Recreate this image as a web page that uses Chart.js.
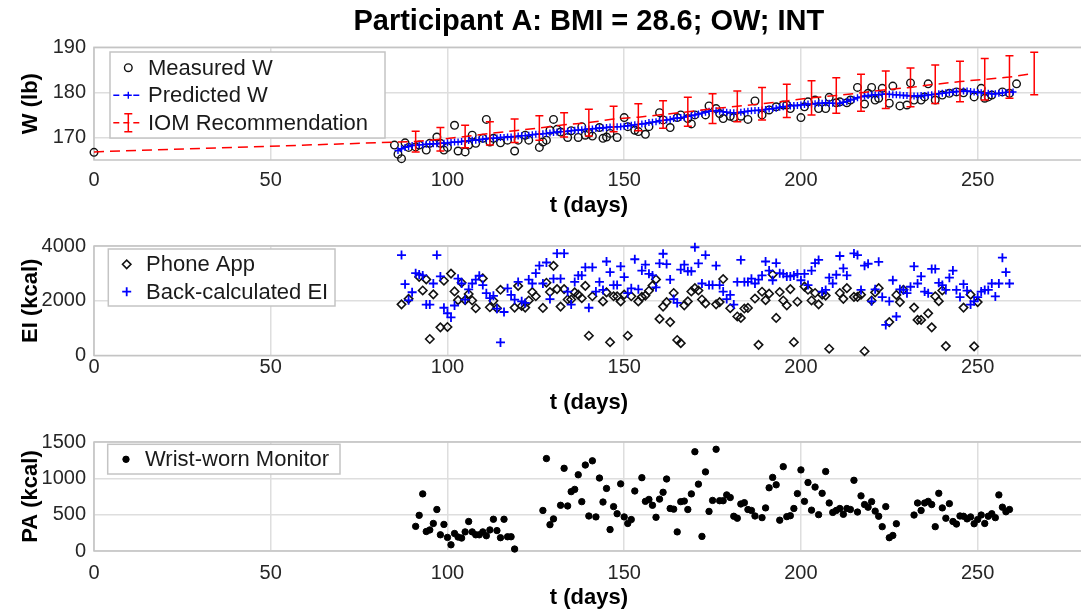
<!DOCTYPE html>
<html lang="en">
<head>
<meta charset="UTF-8">
<title>Participant A</title>
<style>
  html, body { margin: 0; padding: 0; background: #fff; overflow: hidden; }
  #wrap { position: relative; width: 1081px; height: 612px; overflow: hidden; background: #fff; }
  #wrap canvas { position: absolute; left: 0; }
</style>
</head>
<body>
<div id="wrap">
  <canvas id="chartW" width="1090" height="226" style="top:0px"></canvas>
  <canvas id="chartEI" width="1090" height="196" style="top:226px"></canvas>
  <canvas id="chartPA" width="1090" height="200" style="top:422px"></canvas>
</div>

<script src="https://cdn.jsdelivr.net/npm/chart.js"></script>
<script>
// ---- data ----
const xTicks = [0, 50, 100, 150, 200, 250];
const wTicks = [170, 180, 190];
const eiTicks = [0, 2000, 4000];
const paTicks = [0, 500, 1000, 1500];

// measured weight (lb)
const measDays = [0, 85, 86, 87, 88, 89, 91, 92, 94, 95, 97, 98, 99, 100, 102, 103, 105, 106, 107, 108,
  110, 111, 112, 113, 115, 117, 119, 120, 122, 123, 126, 127, 128, 129, 130, 131, 132, 134, 135, 137,
  138, 139, 140, 141, 143, 144, 145, 146, 148, 150, 151, 153, 154, 156, 157, 160, 161, 163, 165, 166,
  168, 169, 170, 173, 174, 176, 177, 178, 180, 181, 183, 185, 187, 189, 191, 193, 195, 196, 197, 200,
  201, 202, 204, 205, 207, 208, 210, 211, 213, 214, 216, 218, 219, 220, 221, 222, 223, 225, 226, 228,
  230, 231, 232, 234, 235, 236, 238, 240, 242, 244, 246, 249, 251, 252, 253, 254, 257, 259, 261];
const measW = [166.7, 168.3, 166.3, 165.3, 168.8, 167.8, 167.9, 168.3, 167.2, 168.7, 170.1, 168.7, 167.2, 167.8, 172.7, 167.0, 166.8, 168.3, 170.5, 168.7,
  169.8, 174.0, 169.0, 169.8, 168.8, 169.4, 167.0, 169.4, 170.5, 169.4, 167.8, 169.0, 169.4, 171.6, 174.0, 171.8, 171.2, 170.0, 171.5, 170.0,
  172.4, 170.5, 170.9, 170.3, 172.2, 169.8, 170.1, 170.9, 170.0, 174.4, 172.4, 171.6, 171.3, 170.7, 172.4, 175.5, 173.9, 172.2, 174.4, 175.0,
  174.2, 173.0, 175.0, 175.0, 177.0, 176.4, 175.3, 174.2, 174.7, 174.4, 174.7, 174.0, 178.1, 175.0, 176.1, 176.8, 177.2, 177.2, 176.4, 174.4,
  176.8, 177.9, 178.3, 176.4, 176.4, 178.9, 177.7, 177.9, 177.7, 178.3, 181.1, 177.4, 179.8, 181.1, 178.3, 178.7, 180.9, 177.6, 181.4, 177.0,
  177.2, 182.1, 178.3, 178.3, 179.0, 181.9, 178.3, 179.4, 179.8, 180.1, 179.9, 179.0, 180.9, 178.7, 179.0, 179.4, 180.1, 179.8, 181.9];

// predicted weight, one value per day from day 86
const predFirstDay = 86;
const predW = [
  167.1, 167.5, 167.8, 168.0, 168.2, 168.3, 168.4, 168.4, 168.5, 168.5,
  168.6, 168.6, 168.7, 168.7, 168.8, 168.9, 169.0, 169.0, 169.1, 169.2,
  169.3, 169.4, 169.4, 169.5, 169.6, 169.7, 169.8, 169.8, 169.9, 170.0,
  170.0, 170.1, 170.1, 170.2, 170.3, 170.4, 170.4, 170.5, 170.6, 170.7,
  170.7, 170.8, 170.9, 171.0, 171.1, 171.2, 171.3, 171.3, 171.4, 171.5,
  171.6, 171.6, 171.7, 171.8, 171.9, 171.9, 172.0, 172.1, 172.1, 172.2,
  172.3, 172.3, 172.4, 172.4, 172.5, 172.6, 172.7, 172.8, 172.9, 173.0,
  173.1, 173.3, 173.4, 173.5, 173.7, 173.8, 173.9, 174.0, 174.2, 174.3,
  174.4, 174.5, 174.7, 174.8, 175.0, 175.2, 175.4, 175.6, 175.8, 175.9,
  175.9, 175.8, 175.7, 175.6, 175.5, 175.5, 175.5, 175.6, 175.7, 175.8,
  175.9, 176.0, 176.0, 176.1, 176.2, 176.3, 176.4, 176.5, 176.7, 176.8,
  176.9, 177.0, 177.1, 177.1, 177.2, 177.3, 177.4, 177.4, 177.5, 177.6,
  177.6, 177.7, 177.6, 177.6, 177.5, 177.6, 177.8, 178.0, 178.3, 178.5,
  178.8, 179.0, 179.2, 179.3, 179.4, 179.5, 179.5, 179.6, 179.6, 179.6,
  179.5, 179.5, 179.4, 179.3, 179.3, 179.2, 179.2, 179.2, 179.3, 179.3,
  179.4, 179.5, 179.6, 179.7, 179.8, 179.9, 180.0, 180.1, 180.2, 180.2,
  180.3, 180.3, 180.2, 180.1, 180.0, 179.9, 179.8, 179.8, 179.7, 179.7,
  179.8, 179.9, 180.0, 180.1, 180.1];

// IOM recommendation and its +/- range
const iomDays = [0, 91, 98, 105, 112, 119, 126, 133, 140, 147, 154, 161, 168, 175, 182, 189, 196, 203, 210, 217, 224, 231, 238, 245, 252, 259, 266];
const iomW = [166.8, 169.1, 169.6, 170.2, 170.9, 171.5, 172.1, 172.8, 173.3, 174.1, 174.5, 175.1, 175.7, 176.4, 176.9, 177.5, 178.1, 178.8, 179.3, 179.9, 180.6, 181.1, 181.8, 182.4, 182.9, 183.4, 184.2];
const iomErr = [0, 2.3, 2.6, 2.5, 2.6, 2.6, 2.7, 2.7, 2.95, 2.85, 3.0, 3.05, 3.2, 3.3, 3.4, 3.6, 3.7, 3.8, 3.95, 4.1, 4.15, 4.3, 4.25, 4.5, 4.6, 4.7, 4.7];

// energy intake, phone app (kcal)
const appDays = [87, 89, 92, 93, 94, 95, 96, 98, 99, 100, 101, 102, 103, 104, 105, 106, 107, 108, 110, 112,
  113, 114, 115, 119, 120, 121, 122, 123, 124, 125, 127, 128, 129, 130, 131, 132, 133, 134, 135, 136,
  137, 138, 139, 140, 141, 144, 145, 146, 147, 148, 149, 150, 151, 152, 154, 155, 156, 157, 158, 159,
  160, 161, 162, 163, 164, 165, 166, 167, 168, 169, 170, 171, 172, 173, 176, 177, 178, 180, 182, 183,
  184, 185, 187, 188, 189, 190, 191, 192, 193, 194, 195, 196, 197, 198, 199, 201, 202, 203, 204, 205,
  206, 207, 208, 211, 212, 213, 215, 216, 217, 218, 220, 221, 222, 225, 227, 228, 229, 232, 233, 234,
  236, 237, 238, 239, 240, 241, 246, 248, 249, 250];
const appEI = [1869, 2070, 2872, 2376, 2780, 603, 2234, 1028, 2731, 1042, 2993, 2340, 2021, 2659, 2021, 2248, 2010, 1727, 2815, 1762,
  2000, 1727, 2401, 1751, 2542, 1808, 1751, 2010, 2319, 2163, 1737, 2659, 2319, 3276, 2425, 1787, 2425, 2046, 2046, 2305,
  2223, 2092, 2542, 723, 2163, 1975, 2305, 486, 2163, 2163, 1975, 2223, 723, 2163, 1975, 2141, 2188, 2365, 2553, 2780,
  1337, 1787, 1950, 1220, 2283, 567, 450, 1833, 1975, 2340, 2461, 2376, 2046, 1904, 1869, 1950, 2794, 1727, 1425, 1372,
  1716, 1737, 2081, 390, 2330, 2021, 2259, 2957, 1372, 2319, 2010, 1833, 2425, 486, 1964, 2518, 2401, 2010, 2283, 1869,
  2223, 2188, 248, 2283, 2070, 2461, 2141, 2141, 2223, 156, 2010, 2305, 2461, 1220, 2212, 1950, 2401, 1751, 1301, 1301,
  1539, 1028, 2163, 1986, 2376, 344, 1751, 2223, 333, 1950];

// back-calculated energy intake, one value per day from day 87 (null = no point)
const backFirstDay = 87;
const backEI = [
  3670, 2606, 2015, 2311, 3006, 2961, 2925, 1862, 1862, 2630,
  3670, 2890, 1744, 1543, 1390, 1826, 2807, 2630, 2039, 2418,
  2630, 2772, 2914, 2571, 2275, 2098, 2181, 1709, 479, 1589,
  2453, 2216, 2039, 2689, 1980, 1921, 2772, 2630, 3006, 3280,
  2630, 3398, 2063, 2807, 3730, 2807, 3730, 2334, 1862, 2689,
  2925, 2925, 3220, 1744, 3220, 2334, 2689, 2394, 3433, 3043,
  2571, 2571, 3255, 2865, 2275, 2453, 3516, 2418, 3103, 3316,
  2985, 2925, 2489, 3362, 3716, 3339, 2772, 2063, 1921, 3138,
  3316, 3078, 3078, 3954, 3362, 2630, 3670, 2571, 2571, 3280,
  2571, 2334, 2063, 2216, 1862, 2689, 3493, 2689, 2689, 2807,
  2630, 2772, 2925, 3433, 3103, 2748, 3375, 3006, 2985, 2890,
  2890, 2925, 2985, 2748, 2985, 2571, 3103, 3375, 3493, 2334,
  2394, 2844, 2630, 2950, 3635, 3185, 2925, null, 3730, 3670,
  2394, 3280, 3351, 1980, 2418, 3422, 2134, 1117, 1980, 2748,
  1425, 2418, 2394, 2275, 2512, 3255, 2630, 2890, 2334, 2275,
  3162, 3162, 2654, 2571, 2394, 2844, 3103, 2394, 2134, 2606,
  2370, 1862, 1980, 2134, 2334, 2394, 2394, 2630, 2157, 2630,
  3575, 3043, 2630];

// physical activity, wrist-worn monitor (kcal)
const paDays = [91, 92, 93, 94, 95, 96, 97, 98, 99, 100, 101, 102, 103, 104, 105, 106, 107, 108, 109, 110,
  111, 112, 113, 114, 115, 116, 117, 118, 119, 127, 128, 129, 130, 132, 133, 134, 135, 136, 137, 138,
  139, 140, 141, 142, 143, 144, 145, 146, 147, 148, 149, 150, 151, 152, 153, 155, 156, 157, 158, 159,
  160, 161, 162, 163, 164, 165, 166, 167, 168, 169, 170, 171, 172, 173, 174, 175, 176, 177, 178, 179,
  180, 181, 182, 183, 184, 185, 186, 187, 189, 190, 191, 192, 193, 194, 195, 196, 197, 198, 199, 200,
  201, 202, 203, 204, 205, 206, 207, 208, 209, 210, 211, 212, 213, 214, 215, 216, 217, 218, 219, 220,
  221, 222, 223, 224, 225, 226, 227, 232, 233, 234, 235, 236, 237, 238, 239, 240, 241, 242, 243, 244,
  245, 246, 247, 248, 249, 250, 251, 252, 253, 254, 255, 256, 257, 258, 259];
const paKcal = [339, 491, 786, 268, 290, 379, 571, 223, 366, 187, 85, 241, 192, 178, 263, 406, 263, 223, 223, 263,
  210, 290, 437, 281, 183, 437, 196, 196, 27, 558, 1272, 362, 442, 629, 1138, 620, 817, 848, 1049, 679,
  1183, 482, 1241, 469, 1004, 674, 861, 295, 611, 513, 924, 469, 379, 433, 826, 1009, 683, 710, 629, 464,
  714, 808, 991, 585, 576, 263, 679, 687, 571, 786, 1366, 920, 201, 1089, 545, 696, 1400, 692, 692, 772,
  736, 478, 451, 647, 665, 571, 558, 482, 459, 593, 870, 1013, 911, 424, 1161, 473, 486, 585, 790, 1116,
  683, 942, 562, 880, 500, 794, 1094, 661, 531, 558, 585, 505, 585, 571, 973, 536, 759, 639, 603, 679,
  549, 478, 335, 611, 183, 214, 375, 495, 661, 558, 661, 683, 639, 335, 794, 593, 451, 652, 406, 371,
  482, 478, 442, 469, 375, 433, 495, 379, 478, 513, 459, 772, 603, 540, 571];

// ---- look ----
const FONT = "'Liberation Sans', Arial, Helvetica, sans-serif";
const GRID = '#dedede';
const BOX = '#c4c4c4';
const TICK_COLOR = '#262626';
Chart.defaults.font.family = FONT;

const pts = (xs, ys) => xs.map((x, i) => ({x: x, y: ys[i]}));

function drawMarker(ctx, ds, x, y) {
  const r = ds.pointRadius;
  ctx.save();
  ctx.setLineDash([]);
  ctx.lineWidth = ds.pointBorderWidth;
  ctx.strokeStyle = ds.pointBorderColor;
  ctx.beginPath();
  if (ds.pointStyle === 'circle') {
    ctx.arc(x, y, r, 0, Math.PI * 2);
  } else if (ds.pointStyle === 'cross') {
    ctx.moveTo(x - r, y); ctx.lineTo(x + r, y);
    ctx.moveTo(x, y - r); ctx.lineTo(x, y + r);
  } else if (ds.pointStyle === 'rectRot') {
    ctx.moveTo(x - r, y); ctx.lineTo(x, y - r); ctx.lineTo(x + r, y); ctx.lineTo(x, y + r); ctx.closePath();
  }
  if (ds.pointBackgroundColor && ds.pointBackgroundColor !== 'transparent') {
    ctx.fillStyle = ds.pointBackgroundColor;
    ctx.fill();
  }
  ctx.stroke();
  ctx.restore();
}

// matlab style legend box in the upper left corner
const boxLegend = {
  id: 'boxLegend',
  afterDraw(chart, args, o) {
    if (!o || !o.w) return;
    const ctx = chart.ctx;
    ctx.save();
    ctx.fillStyle = '#fff';
    ctx.fillRect(o.x, o.y, o.w, o.h);
    ctx.strokeStyle = BOX;
    ctx.lineWidth = 1.5;
    ctx.strokeRect(o.x, o.y, o.w, o.h);
    ctx.font = '22px ' + FONT;
    ctx.textBaseline = 'middle';
    ctx.textAlign = 'left';
    chart.data.datasets.forEach((ds, i) => {
      if (ds.legendRow === undefined) return;
      const cy = o.y + o.row0 + ds.legendRow * o.gap;
      const cx = o.x + o.mx;
      if (ds.showLine) {
        ctx.save();
        ctx.strokeStyle = ds.borderColor;
        ctx.lineWidth = ds.borderWidth;
        ctx.setLineDash(ds.legendDash || []);
        ctx.beginPath();
        ctx.moveTo(cx - 15, cy); ctx.lineTo(cx + 15, cy);
        ctx.stroke();
        ctx.restore();
      }
      if (ds.errors) {
        ctx.save();
        ctx.strokeStyle = ds.borderColor;
        ctx.lineWidth = 1.5;
        ctx.beginPath();
        ctx.moveTo(cx, cy - 9); ctx.lineTo(cx, cy + 9);
        ctx.moveTo(cx - 4, cy - 9); ctx.lineTo(cx + 4, cy - 9);
        ctx.moveTo(cx - 4, cy + 9); ctx.lineTo(cx + 4, cy + 9);
        ctx.stroke();
        ctx.restore();
      }
      if (ds.pointRadius > 0) drawMarker(ctx, ds, cx, cy);
      ctx.fillStyle = '#1a1a1a';
      ctx.fillText(ds.label, o.x + o.tx, cy + 1);
    });
    ctx.restore();
  }
};

// axes box
const axesBox = {
  id: 'axesBox',
  beforeDatasetsDraw(chart) {
    const a = chart.chartArea, ctx = chart.ctx;
    ctx.save();
    ctx.strokeStyle = BOX;
    ctx.lineWidth = 1.5;
    ctx.strokeRect(a.left, a.top, a.right - a.left, a.bottom - a.top);
    ctx.restore();
  }
};

// vertical error bars with caps
const errorBars = {
  id: 'errorBars',
  afterDatasetsDraw(chart) {
    const ctx = chart.ctx, ys = chart.scales.y;
    chart.data.datasets.forEach((ds, di) => {
      if (!ds.errors) return;
      const meta = chart.getDatasetMeta(di);
      ctx.save();
      ctx.strokeStyle = ds.borderColor;
      ctx.lineWidth = 1.5;
      meta.data.forEach((p, i) => {
        const e = ds.errors[i];
        if (!e) return;
        const v = ds.data[i].y;
        const y1 = ys.getPixelForValue(v + e), y2 = ys.getPixelForValue(v - e);
        ctx.beginPath();
        ctx.moveTo(p.x, y1); ctx.lineTo(p.x, y2);
        ctx.moveTo(p.x - 4, y1); ctx.lineTo(p.x + 4, y1);
        ctx.moveTo(p.x - 4, y2); ctx.lineTo(p.x + 4, y2);
        ctx.stroke();
      });
      ctx.restore();
    });
  }
};

function xAxis(tickPad, axisHeight, titlePad) {
  return {
    type: 'linear', min: 0, max: 280,
    afterBuildTicks: s => { s.ticks = xTicks.map(v => ({value: v})); },
    afterFit: s => { s.height = axisHeight; },
    grid: {color: GRID, lineWidth: 1.5, drawTicks: false},
    border: {display: false},
    ticks: {padding: tickPad, color: TICK_COLOR, font: {size: 20}, maxRotation: 0, autoSkip: false, callback: v => String(v)},
    title: {display: true, text: 't (days)', color: '#000', font: {size: 22, weight: 'bold'}, padding: {top: 0, bottom: titlePad}}
  };
}

function yAxis(min, max, ticks, text) {
  return {
    type: 'linear', min: min, max: max,
    afterBuildTicks: s => { s.ticks = ticks.map(v => ({value: v})); },
    afterFit: s => { s.width = 94; },
    grid: {color: GRID, lineWidth: 1.5, drawTicks: false},
    border: {display: false},
    ticks: {padding: 8, color: TICK_COLOR, font: {size: 20}, callback: v => String(v)},
    title: {display: true, text: text, color: '#000', font: {size: 22, weight: 'bold'}, padding: {top: 18, bottom: 0}}
  };
}

function baseOptions(xa, ya, padTop, legendBox) {
  return {
    responsive: false,
    animation: false,
    devicePixelRatio: 1,
    layout: {padding: {top: padTop, left: 0, right: 6.3, bottom: 0}},
    scales: {x: xa, y: ya},
    plugins: {
      legend: {display: false},
      tooltip: {enabled: false},
      boxLegend: legendBox
    }
  };
}

// ---- weight ----
const optW = baseOptions(xAxis(8.5, 66, 6.8), yAxis(165, 190, wTicks, 'W (lb)'), 0,
  {x: 110, y: 52, w: 275, h: 86, row0: 15.7, gap: 27.5, mx: 18.3, tx: 38});
optW.plugins.title = {
  display: true, fullSize: false, text: 'Participant A: BMI = 28.6; OW; INT', color: '#000',
  font: {size: 29, weight: 'bold'}, padding: {top: 4.6, bottom: 7.9}
};

new Chart(document.getElementById('chartW'), {
  type: 'scatter',
  data: {
    datasets: [{
      label: 'IOM Recommendation',
      data: pts(iomDays, iomW),
      errors: iomErr,
      showLine: true,
      borderColor: '#ff0000', borderWidth: 1.5, borderDash: [10, 6], legendDash: [6, 4],
      pointRadius: 0, clip: false, legendRow: 2
    }, {
      label: 'Predicted W',
      data: predW.map((y, i) => ({x: predFirstDay + i, y: y})),
      showLine: true,
      borderColor: '#0000ff', borderWidth: 1.5, borderDash: [6, 4], legendDash: [6, 4],
      pointStyle: 'cross', pointRadius: 3.5, pointBorderWidth: 1.4,
      pointBorderColor: '#0000ff', pointBackgroundColor: 'transparent', clip: false, legendRow: 1
    }, {
      label: 'Measured W',
      data: pts(measDays, measW),
      showLine: false,
      borderColor: '#000',
      pointStyle: 'circle', pointRadius: 3.8, pointBorderWidth: 1.4,
      pointBorderColor: '#111', pointBackgroundColor: 'transparent', clip: false, legendRow: 0
    }]
  },
  options: optW,
  plugins: [axesBox, errorBars, boxLegend]
});

// ---- energy intake ----
new Chart(document.getElementById('chartEI'), {
  type: 'scatter',
  data: {
    datasets: [{
      label: 'Back-calculated EI',
      data: backEI.map((y, i) => ({x: backFirstDay + i, y: y})),
      pointStyle: 'cross', pointRadius: 4.5, pointBorderWidth: 1.8,
      pointBorderColor: '#0000ff', pointBackgroundColor: 'transparent', clip: false, legendRow: 1
    }, {
      label: 'Phone App',
      data: pts(appDays, appEI),
      pointStyle: 'rectRot', pointRadius: 4.2, pointBorderWidth: 1.6,
      pointBorderColor: '#111', pointBackgroundColor: 'transparent', clip: false, legendRow: 0
    }]
  },
  options: baseOptions(xAxis(0, 66.5, 6.3), yAxis(0, 4000, eiTicks, 'EI (kcal)'), 16.7,
    {x: 108.3, y: 23, w: 226.7, h: 57, row0: 15.3, gap: 27.4, mx: 18.4, tx: 37.7}),
  plugins: [axesBox, boxLegend]
});

// ---- physical activity ----
new Chart(document.getElementById('chartPA'), {
  type: 'scatter',
  data: {
    datasets: [{
      label: 'Wrist-worn Monitor',
      data: pts(paDays, paKcal),
      pointStyle: 'circle', pointRadius: 3.2, pointBorderWidth: 1,
      pointBorderColor: '#000', pointBackgroundColor: '#000', clip: false, legendRow: 0
    }]
  },
  options: baseOptions(xAxis(10, 71, 10.8), yAxis(0, 1500, paTicks, 'PA (kcal)'), 17,
    {x: 107.7, y: 22.3, w: 232.3, h: 29.7, row0: 15, gap: 27, mx: 18.3, tx: 37.3}),
  plugins: [axesBox, boxLegend]
});
</script>
</body>
</html>
